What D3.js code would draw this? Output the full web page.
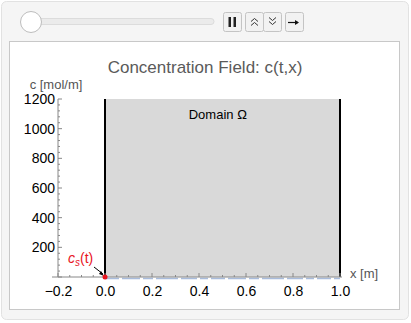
<!DOCTYPE html>
<html>
<head>
<meta charset="utf-8">
<script src="https://cdn.jsdelivr.net/npm/d3@7/dist/d3.min.js"></script>
<style>
  body { margin: 0; background: #fff; font-family: "Liberation Sans", Arial, sans-serif; }
  svg { display: block; }
</style>
</head>
<body>
<svg id="chart" width="411" height="323"></svg>
<script>
// axis ticks
var xTicks = [-0.2, 0.0, 0.2, 0.4, 0.6, 0.8, 1.0];
var yTicks = [200, 400, 600, 800, 1000, 1200];
// domain and concentration profile (all near zero at t=0)
var domainX = [0, 1];
var profileX = [0, 0.25, 0.5, 0.75, 1];
var profileC = [0, 0, 0, 0, 0];
var surface = { x: 0, c: 0 };

var svg = d3.select("#chart");

// control panel
svg.append("rect").attr("x", 1.5).attr("y", 1.5).attr("width", 407).attr("height", 318)
    .attr("rx", 5).attr("fill", "#f5f5f5").attr("stroke", "#e2e2e2");
svg.append("rect").attr("x", 9.5).attr("y", 41.5).attr("width", 390).attr("height", 268)
    .attr("fill", "#fff").attr("stroke", "#c8c8c8");

// slider
svg.append("rect").attr("x", 26).attr("y", 18.5).attr("width", 188).attr("height", 6)
    .attr("rx", 3).attr("fill", "#ebebeb").attr("stroke", "#dcdcdc");
svg.append("circle").attr("cx", 31).attr("cy", 22).attr("r", 10.5)
    .attr("fill", "#fff").attr("stroke", "#bdbdbd");

// buttons
var buttons = [
  { x: 223, w: 18 },
  { x: 245, w: 18 },
  { x: 263, w: 18 },
  { x: 285, w: 18 }
];
buttons.forEach(function (b) {
  svg.append("rect").attr("x", b.x + 0.5).attr("y", 12.5).attr("width", b.w).attr("height", 19)
      .attr("rx", 2).attr("fill", "#f2f2f2").attr("stroke", "#c4c4c4");
});
// pause icon
svg.append("rect").attr("x", 228.5).attr("y", 17).attr("width", 2.5).attr("height", 10).attr("fill", "#222");
svg.append("rect").attr("x", 233.5).attr("y", 17).attr("width", 2.5).attr("height", 10).attr("fill", "#222");
// double chevrons
function chevrons(cx, up) {
  var ys = up ? [18.5, 22.5] : [17.5, 21.5];
  ys.forEach(function (y) {
    var p = up ? "M" + (cx - 3.5) + "," + (y + 3) + "l3.5,-3l3.5,3"
               : "M" + (cx - 3.5) + "," + y + "l3.5,3l3.5,-3";
    svg.append("path").attr("d", p).attr("fill", "none").attr("stroke", "#333").attr("stroke-width", 1);
  });
}
chevrons(254.5, true);
chevrons(272.5, false);
// arrow
svg.append("path").attr("d", "M288,22.5h10").attr("stroke", "#111").attr("stroke-width", 1.2);
svg.append("path").attr("d", "M299,22.5l-4,-2.5v5z").attr("fill", "#111");

// plot
var x = d3.scaleLinear().domain([-0.2, 1.0]).range([58, 340]);
var y = d3.scaleLinear().domain([0, 1200]).range([277, 99]);

// domain
svg.append("rect")
    .attr("x", x(domainX[0])).attr("y", y(1200))
    .attr("width", x(domainX[1]) - x(domainX[0])).attr("height", y(0) - y(1200))
    .attr("fill", "#d9d9d9");

// concentration profile (slightly under axis)
svg.append("path")
    .datum(profileX.map(function (d, i) { return [d, profileC[i]]; }))
    .attr("d", d3.line().x(function (d) { return x(d[0]); }).y(function (d) { return y(d[1]) + 1.5; }))
    .attr("fill", "none").attr("stroke", "#a9bcdc").attr("stroke-width", 1.5)
    .attr("stroke-dasharray", "14,3,18,3,10,3,22,3,16,3,8,3");

// walls
domainX.forEach(function (d) {
  svg.append("line").attr("x1", x(d)).attr("x2", x(d)).attr("y1", y(1200)).attr("y2", y(0))
      .attr("stroke", "#000").attr("stroke-width", 2);
});

// axes
var axisColor = "#888";
var xAxis = svg.append("g").attr("transform", "translate(0," + y(0) + ")")
    .call(d3.axisBottom(x).tickValues(xTicks).tickSize(0).tickPadding(9));
xAxis.select(".domain").remove();
xAxis.append("line").attr("x1", 52).attr("x2", 342).attr("stroke", axisColor);
// major and minor ticks x
d3.range(-0.2, 1.0001, 0.05).forEach(function (v) {
  var major = Math.abs(Math.round(v * 5) - v * 5) < 1e-6;
  xAxis.append("line").attr("x1", x(v)).attr("x2", x(v)).attr("y1", 0).attr("y2", major ? -4 : -2)
      .attr("stroke", axisColor);
});
xAxis.selectAll(".tick text").attr("font-size", 14).attr("fill", "#000")
    .attr("font-family", "Liberation Sans, Arial, sans-serif")
    .text(function (d) { return d < 0 ? "\u2212" + Math.abs(d).toFixed(1) : d.toFixed(1); });

var yAxis = svg.append("g").attr("transform", "translate(" + x(-0.2) + ",0)")
    .call(d3.axisLeft(y).tickValues(yTicks).tickSize(0).tickPadding(3).tickFormat(d3.format("d")));
yAxis.select(".domain").remove();
yAxis.append("line").attr("y1", y(0)).attr("y2", y(1200)).attr("stroke", axisColor);
d3.range(0, 1201, 40).forEach(function (v) {
  var major = v % 200 === 0;
  yAxis.append("line").attr("y1", y(v)).attr("y2", y(v)).attr("x1", 0).attr("x2", major ? 4 : 2)
      .attr("stroke", axisColor);
});
yAxis.selectAll(".tick text").attr("font-size", 14).attr("fill", "#000")
    .attr("font-family", "Liberation Sans, Arial, sans-serif");

// labels
svg.append("text").attr("x", 205).attr("y", 73).attr("text-anchor", "middle")
    .attr("font-size", 17).attr("fill", "#5a5a5a").text("Concentration Field: c(t,x)");
svg.append("text").attr("x", 56).attr("y", 89).attr("text-anchor", "middle")
    .attr("font-size", 13).attr("fill", "#555").text("c [mol/m]");
svg.append("text").attr("x", 350).attr("y", 278)
    .attr("font-size", 13).attr("fill", "#555").text("x [m]");
svg.append("text").attr("x", x(0.48)).attr("y", 119).attr("text-anchor", "middle")
    .attr("font-size", 13).attr("fill", "#000").text("Domain \u03A9");

// surface concentration marker
var lbl = svg.append("text").attr("x", 68).attr("y", 263).attr("font-size", 14).attr("fill", "#e8141e");
lbl.append("tspan").attr("font-style", "italic").text("c");
lbl.append("tspan").attr("font-style", "italic").attr("font-size", 10).attr("dy", 3).text("s");
lbl.append("tspan").attr("dy", -3).text("(t)");
svg.append("line").attr("x1", 94).attr("y1", 267).attr("x2", x(surface.x) - 2).attr("y2", y(surface.c) - 3)
    .attr("stroke", "#000").attr("stroke-width", 1);
svg.append("path").attr("d", "M" + (x(0) - 1) + "," + (y(0) - 1) + "l-5,-2l2,-3z").attr("fill", "#000");
svg.append("circle").attr("cx", x(surface.x)).attr("cy", y(surface.c)).attr("r", 2.5).attr("fill", "#e8141e");
</script>
</body>
</html>
